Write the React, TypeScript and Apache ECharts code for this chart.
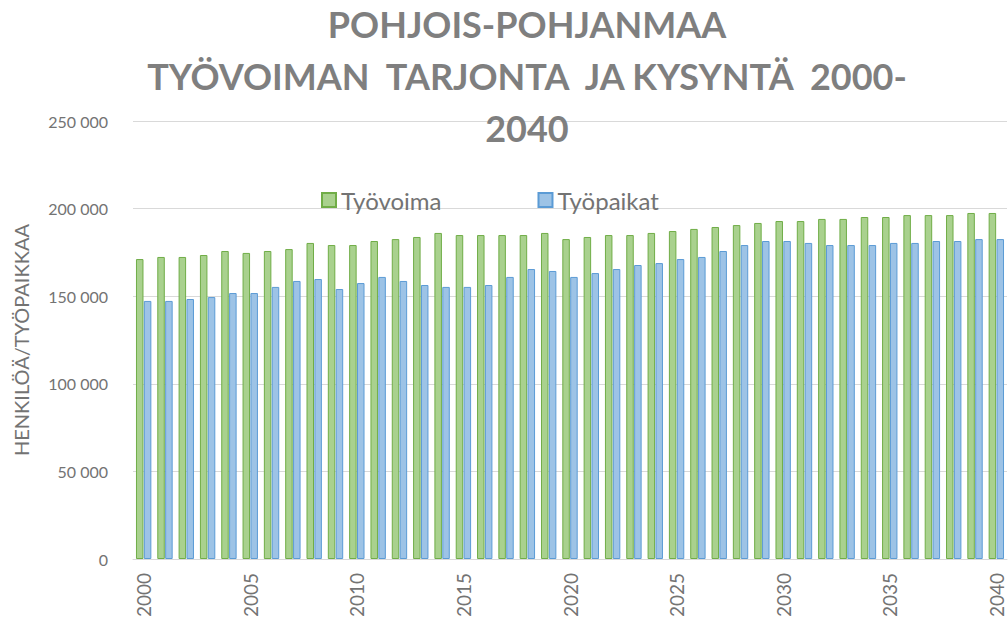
import React, { useEffect, useRef } from "react";
import * as echarts from "echarts";

const years: string[] = [
  "2000","2001","2002","2003","2004","2005","2006","2007","2008","2009",
  "2010","2011","2012","2013","2014","2015","2016","2017","2018","2019",
  "2020","2021","2022","2023","2024","2025","2026","2027","2028","2029",
  "2030","2031","2032","2033","2034","2035","2036","2037","2038","2039","2040",
];

const tyovoima: number[] = [
  171200, 172400, 172400, 173500, 175800, 174700, 175800, 176900, 180400, 179200,
  179200, 181500, 182600, 183800, 186100, 184900, 184900, 184900, 184900, 186100,
  182600, 183800, 184900, 184900, 186100, 187200, 188400, 189500, 190600, 191800,
  192900, 192900, 194100, 194100, 195200, 195200, 196300, 196300, 196300, 197500, 197500,
];

const tyopaikat: number[] = [
  147300, 147300, 148400, 149500, 151800, 151800, 155300, 158700, 159800, 154100,
  157500, 161000, 158700, 156400, 155300, 155300, 156400, 161000, 165500, 164400,
  161000, 163200, 165500, 167800, 168900, 171200, 172400, 175800, 179200, 181500,
  181500, 180400, 179200, 179200, 179200, 180400, 180400, 181500, 181500, 182600, 182600,
];

const titleLines: string[] = [
  "POHJOIS-POHJANMAA",
  "TYÖVOIMAN  TARJONTA  JA KYSYNTÄ  2000-",
  "2040",
];

const seriesNames: string[] = ["Työvoima", "Työpaikat"];
const yAxisName = "HENKILÖÄ/TYÖPAIKKAA";

const fmt = (v: number) => String(v).replace(/\B(?=(\d{3})+(?!\d))/g, " ");

export default function App() {
  const ref = useRef<HTMLDivElement>(null);
  useEffect(() => {
    if (!ref.current) return;
    const chart = echarts.init(ref.current, undefined, { renderer: "svg" });
    const font = "Lato, 'Open Sans', sans-serif";
    const textGray = "#737373";
    chart.setOption({
      animation: false,
      backgroundColor: "#ffffff",
      textStyle: { fontFamily: font },
      graphic: titleLines.map((t, i) => ({
        type: "text",
        x: 527,
        y: 24 + i * 52,
        style: {
          text: t,
          fill: "#7f7f7f",
          font: `bold 36px ${font}`,
          textAlign: "center",
          textVerticalAlign: "middle",
        },
        z: 10,
      })),
      legend: {
        data: seriesNames,
        left: 316,
        top: 183,
        itemWidth: 14,
        itemHeight: 14,
        itemGap: 96,
        icon: "rect",
        textStyle: { color: textGray, fontSize: 24, fontFamily: font },
      },
      grid: { left: 133, top: 121, bottom: 65, right: 1 },
      xAxis: {
        type: "category",
        data: years,
        axisLine: { show: true, lineStyle: { color: "#d9d9d9", width: 1 } },
        axisTick: { show: false },
        axisLabel: {
          interval: 4,
          rotate: 90,
          color: textGray,
          fontSize: 19,
          margin: 14,
          fontFamily: font,
        },
      },
      yAxis: {
        type: "value",
        min: 0,
        max: 250000,
        interval: 50000,
        name: yAxisName,
        nameLocation: "middle",
        nameGap: 102,
        nameTextStyle: { color: textGray, fontSize: 20, fontFamily: font },
        axisLine: { show: false },
        axisTick: { show: false },
        splitLine: { lineStyle: { color: "#d9d9d9", width: 1 } },
        axisLabel: {
          color: textGray,
          fontSize: 16,
          margin: 25,
          fontFamily: font,
          formatter: (v: number) => fmt(v),
        },
      },
      series: [
        {
          name: seriesNames[0],
          type: "bar",
          data: tyovoima,
          barWidth: 7.5,
          barGap: "5%",
          itemStyle: { color: "#a9d18e", borderColor: "#70ad47", borderWidth: 1 },
        },
        {
          name: seriesNames[1],
          type: "bar",
          data: tyopaikat,
          barWidth: 7.5,
          itemStyle: { color: "#9dc3e6", borderColor: "#5b9bd5", borderWidth: 1 },
        },
      ],
    });
    return () => chart.dispose();
  }, []);
  return (
    <div style={{ position: "absolute", left: 0, top: 0, width: 1008, height: 624, overflow: "hidden", background: "#fff" }}>
      <div ref={ref} style={{ width: 1008, height: 624 }} />
    </div>
  );
}
